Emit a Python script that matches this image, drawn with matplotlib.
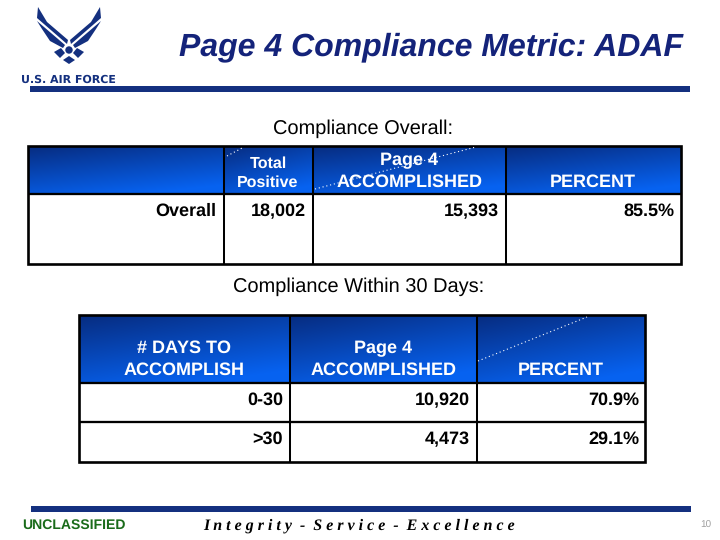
import numpy as np
import matplotlib
matplotlib.use("Agg")
import matplotlib.pyplot as plt
from matplotlib.patches import Polygon, Rectangle, Circle

plt.rcParams["text.hinting"] = "no_hinting"
plt.rcParams["text.hinting_factor"] = 1

TITLE = "Page 4 Compliance Metric: ADAF"
HEAD1 = "Compliance Overall:"
HEAD2 = "Compliance Within 30 Days:"
T1_COLS = ["", "Total\nPositive", "Page 4\nACCOMPLISHED", "PERCENT"]
T1_ROWS = ["Overall"]
T1_TOTAL = ["18,002"]
T1_DONE = ["15,393"]
T1_PCT = ["85.5%"]
T2_COLS = ["# DAYS TO\nACCOMPLISH", "Page 4\nACCOMPLISHED", "PERCENT"]
T2_ROWS = ["0-30", ">30"]
T2_DONE = ["10,920", "4,473"]
T2_PCT = ["70.9%", "29.1%"]
FOOT_L = "UNCLASSIFIED"
FOOT_C = "I n t e g r i t y  -  S e r v i c e  -  E x c e l l e n c e"
PAGE = "10"

NAVY = "#14307f"
SANS = "Liberation Sans"
SERIF = "Liberation Serif"

fig = plt.figure(figsize=(7.2, 5.4), dpi=100, facecolor="white")
ax = fig.add_axes([0, 0, 1, 1])
ax.set_xlim(0, 720)
ax.set_ylim(540, 0)
ax.axis("off")


def grad(x0, x1, y0, y1):
    w, h = int(x1 - x0), int(y1 - y0)
    u = np.linspace(0, 1, w)[None, :]
    v = np.linspace(0, 1, h)[:, None]
    t = np.clip(0.35 * u + 0.8 * v, 0, 1)[..., None]
    a = np.array([0x06, 0x2c, 0x80]) / 255
    b = np.array([0x06, 0x62, 0xf0]) / 255
    ax.imshow(a + (b - a) * t, extent=(x0, x1, y1, y0), aspect="auto", zorder=1, interpolation="bilinear")


def table(x0, x1, y0, yh, y1, cols, rows):
    for a, b in zip([x0] + cols, cols + [x1]):
        grad(a, b, y0, yh)
    lw = 1.45
    ax.add_patch(Rectangle((x0, y0), x1 - x0, y1 - y0, fill=False, ec="black", lw=lw + 0.45, zorder=3))
    for c in cols:
        ax.plot([c, c], [y0, y1], color="black", lw=lw, zorder=3, solid_capstyle="butt")
    for r in [yh] + rows:
        ax.plot([x0, x1], [r, r], color="black", lw=lw + 0.2, zorder=3, solid_capstyle="butt")


def label(x, y, s, ha="center", size=12.9, color="black", weight="bold", **kw):
    ax.text(x, y, s, family=SANS, weight=weight, size=size, color=color, ha=ha, va="baseline", zorder=4, **kw)


# logo
logo = [
    [(38, 7), (47, 22), (68, 40), (67, 44), (37, 18)],
    [(37, 21), (65, 45), (63, 48), (50, 41), (42, 29)],
    [(100, 7), (91, 22), (70, 40), (71, 44), (101, 18)],
    [(101, 21), (73, 45), (75, 48), (88, 41), (96, 29)],
    [(54, 52), (61, 48), (65, 53), (60, 58)],
    [(84, 52), (77, 48), (73, 53), (78, 58)],
    [(69, 56), (75, 60), (69, 64), (63, 60)],
]
for p in logo:
    ax.add_patch(Polygon(p, closed=True, fc=NAVY, ec="none", zorder=2))
ax.add_patch(Circle((69, 50), 3.7, fc=NAVY, ec="none", zorder=2))
ax.text(68.5, 83, "U.S. AIR FORCE", family="DejaVu Sans", weight="bold", size=7.8, color=NAVY, ha="center", va="baseline")

# rules
ax.add_patch(Rectangle((30, 86), 660, 6, fc=NAVY, ec="none"))
ax.add_patch(Rectangle((31, 506), 660, 6, fc=NAVY, ec="none"))

ax.text(431, 55, TITLE, family=SANS, style="italic", weight="bold", size=23, color="#14237a", ha="center", va="baseline")
ax.text(363.5, 134, HEAD1, family=SANS, size=14.4, color="black", ha="center", va="baseline")
ax.text(359, 292, HEAD2, family=SANS, size=14.4, color="black", ha="center", va="baseline")

# table 1
table(28, 681, 146, 194, 264, [224, 313, 506], [])
label(268, 168, "Total", size=11.5, color="white")
label(268, 187, "Positive", size=11.5, color="white")
label(409.5, 165, "Page 4", color="white")
label(409.5, 187, "ACCOMPLISHED", color="white")
label(593, 187, T1_COLS[3], color="white")
label(216, 216, T1_ROWS[0], ha="right")
label(306, 216, T1_TOTAL[0], ha="right")
label(498.5, 216, T1_DONE[0], ha="right")
label(674, 216, T1_PCT[0], ha="right")

# table 2
table(79, 645, 315, 383, 462, [290, 477], [422])
label(184.5, 353, "# DAYS TO", color="white")
label(184.5, 375, "ACCOMPLISH", color="white")
label(383.5, 353, "Page 4", color="white")
label(383.5, 375, "ACCOMPLISHED", color="white")
label(561, 375, T2_COLS[2], color="white")
for i, y in enumerate([405, 444]):
    label(283, y, T2_ROWS[i], ha="right")
    label(469.5, y, T2_DONE[i], ha="right")
    label(639, y, T2_PCT[i], ha="right")

# dotted white strokes
for (a, b), (c, d) in [((227, 156), (244, 147)), ((315, 189), (476, 147)), ((478, 361), (587, 317))]:
    ax.plot([a, c], [b, d], color="white", lw=0.8, ls=(0, (1, 2.5)), zorder=5)

# footer
ax.text(73.5, 529, FOOT_L, family=SANS, weight="bold", size=10.0, color="#1a6b1a", ha="center", va="baseline")
ax.text(359, 530, FOOT_C, family=SERIF, style="italic", weight="bold", size=11.4, color="black", ha="center", va="baseline")
ax.text(706, 528, PAGE, family=SANS, size=7.5, color="#a0a0a0", ha="center", va="baseline")

ax.set_xlim(0, 720)
ax.set_ylim(540, 0)
fig.savefig("out.png", dpi=100)
